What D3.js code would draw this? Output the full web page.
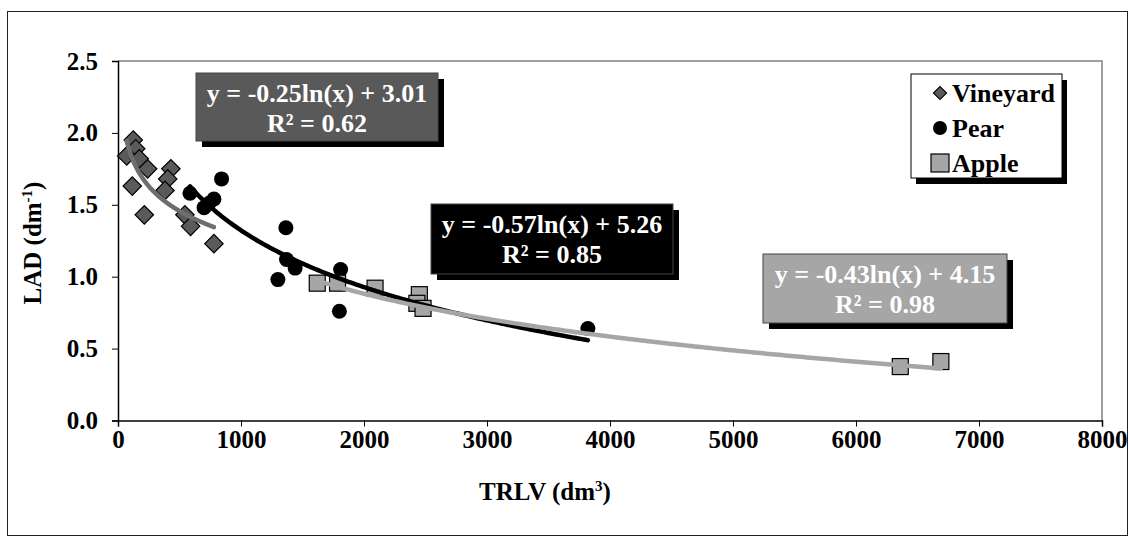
<!DOCTYPE html>
<html>
<head>
<meta charset="utf-8">
<script src="https://cdn.jsdelivr.net/npm/d3@7"></script>
<style>
  html, body { margin: 0; padding: 0; background: #fff; }
  svg { display: block; }
  text { font-family: "Liberation Serif", "Times New Roman", serif; font-weight: bold; }
</style>
</head>
<body>
<svg id="chart" width="1129" height="536"></svg>
<script>
// TRLV (dm³) vs LAD (dm⁻¹) measurements per orchard type
const vineyardX = [124, 144, 71, 173, 241, 430, 404, 116, 382, 214, 544, 590, 780];
const vineyardY = [1.95, 1.89, 1.84, 1.82, 1.75, 1.75, 1.68, 1.63, 1.60, 1.43, 1.43, 1.35, 1.23];

const pearX = [585, 700, 740, 780, 842, 1300, 1365, 1370, 1440, 1810, 1800, 3820];
const pearY = [1.58, 1.48, 1.51, 1.54, 1.68, 0.98, 1.34, 1.12, 1.06, 1.05, 0.76, 0.64];

const appleX = [1620, 1785, 2090, 2450, 2430, 2480, 6360, 6690];
const appleY = [0.955, 0.955, 0.92, 0.875, 0.815, 0.78, 0.375, 0.41];

// logarithmic trendlines y = a·ln(x) + b
const fitNames = ["Vineyard", "Pear", "Apple"];
const fitA = [-0.25, -0.57, -0.43];
const fitB = [3.01, 5.26, 4.15];
const fitR2 = ["0.62", "0.85", "0.98"];

const xTicks = [0, 1000, 2000, 3000, 4000, 5000, 6000, 7000, 8000];
const yTicks = [0.0, 0.5, 1.0, 1.5, 2.0, 2.5];

const svg = d3.select("#chart");
const W = 1129, H = 536;
const plot = { left: 118, right: 1102, top: 61, bottom: 420.5 };

const x = d3.scaleLinear().domain([0, 8000]).range([plot.left, plot.right]);
const y = d3.scaleLinear().domain([0, 2.5]).range([plot.bottom, plot.top]);

// outer frame
svg.append("rect")
  .attr("x", 7.5).attr("y", 11.5).attr("width", W - 9).attr("height", H - 12)
  .attr("fill", "#fff").attr("stroke", "#222").attr("stroke-width", 1);

// plot area border (top/right)
svg.append("path")
  .attr("d", `M${plot.left},${plot.top}H${plot.right}V${plot.bottom}`)
  .attr("fill", "none").attr("stroke", "#808080").attr("stroke-width", 1.5);

// axes
const xAxis = svg.append("g")
  .attr("transform", `translate(0,${plot.bottom})`)
  .call(d3.axisBottom(x).tickValues(xTicks).tickFormat(d => String(d)).tickSize(6).tickPadding(4));
const yAxis = svg.append("g")
  .attr("transform", `translate(${plot.left},0)`)
  .call(d3.axisLeft(y).tickValues(yTicks).tickFormat(d => d.toFixed(1)).tickSize(6).tickPadding(14));

[xAxis, yAxis].forEach(g => {
  g.select(".domain").attr("stroke", "#000").attr("stroke-width", 1.5);
  g.selectAll(".tick line").attr("stroke", "#000").attr("stroke-width", 1);
  g.selectAll(".tick text")
    .attr("fill", "#000")
    .style("font-family", "'Liberation Serif', 'Times New Roman', serif")
    .style("font-weight", "bold")
    .style("font-size", "25px");
});

// axis titles
const xTitle = svg.append("text")
  .attr("x", 545).attr("y", 500)
  .attr("text-anchor", "middle")
  .style("font-size", "25px");
xTitle.append("tspan").text("TRLV (dm");
xTitle.append("tspan").text("3").attr("dy", -9).style("font-size", "15px");
xTitle.append("tspan").text(")").attr("dy", 9);

const yTitle = svg.append("text")
  .attr("transform", "translate(41,243) rotate(-90)")
  .attr("text-anchor", "middle")
  .style("font-size", "25px");
yTitle.append("tspan").text("LAD (dm");
yTitle.append("tspan").text("-1").attr("dy", -9).style("font-size", "15px");
yTitle.append("tspan").text(")").attr("dy", 9);

// markers
const diamond = d3.symbol().type(d3.symbolSquare).size(170);
svg.append("g").selectAll("path")
  .data(d3.zip(vineyardX, vineyardY))
  .join("path")
  .attr("d", diamond)
  .attr("transform", d => `translate(${x(d[0])},${y(d[1])}) rotate(45)`)
  .attr("fill", "#5a5a5a").attr("stroke", "#000").attr("stroke-width", 1.2);

svg.append("g").selectAll("circle")
  .data(d3.zip(pearX, pearY))
  .join("circle")
  .attr("cx", d => x(d[0])).attr("cy", d => y(d[1])).attr("r", 7.5)
  .attr("fill", "#000");

svg.append("g").selectAll("rect")
  .data(d3.zip(appleX, appleY))
  .join("rect")
  .attr("x", d => x(d[0]) - 8).attr("y", d => y(d[1]) - 8)
  .attr("width", 16).attr("height", 16)
  .attr("fill", "#a6a6a6").attr("stroke", "#000").attr("stroke-width", 1.2);

// trendlines across each series' data range
const seriesX = [vineyardX, pearX, appleX];
const lineColors = ["#6e6e6e", "#000", "#a6a6a6"];
const line = d3.line().x(d => x(d[0])).y(d => y(d[1])).curve(d3.curveLinear);
fitNames.forEach((name, i) => {
  const [lo, hi] = d3.extent(seriesX[i]);
  const pts = d3.range(0, 201).map(k => {
    const v = lo + (hi - lo) * k / 200;
    return [v, fitA[i] * Math.log(v) + fitB[i]];
  });
  svg.append("path")
    .datum(pts)
    .attr("d", line)
    .attr("fill", "none")
    .attr("stroke", lineColors[i])
    .attr("stroke-width", 4.5)
    .attr("stroke-linecap", "round");
});

// equation labels
const boxes = [
  { x: 196, y: 73, w: 242, h: 68, fill: "#595959" },
  { x: 431, y: 204, w: 242, h: 70, fill: "#000" },
  { x: 763, y: 254, w: 244, h: 69, fill: "#a6a6a6" }
];
boxes.forEach((b, i) => {
  svg.append("rect")
    .attr("x", b.x + 6).attr("y", b.y + 6).attr("width", b.w).attr("height", b.h)
    .attr("fill", "#000");
  svg.append("rect")
    .attr("x", b.x).attr("y", b.y).attr("width", b.w).attr("height", b.h)
    .attr("fill", b.fill).attr("stroke", "#444").attr("stroke-width", 1);
  const cx = b.x + b.w / 2;
  const sign = fitB[i] >= 0 ? "+" : "-";
  svg.append("text")
    .attr("x", cx).attr("y", b.y + 29)
    .attr("text-anchor", "middle").attr("fill", "#fff")
    .style("font-size", "26px")
    .text(`y = ${fitA[i].toFixed(2)}ln(x) ${sign} ${Math.abs(fitB[i]).toFixed(2)}`);
  svg.append("text")
    .attr("x", cx).attr("y", b.y + 59)
    .attr("text-anchor", "middle").attr("fill", "#fff")
    .style("font-size", "26px")
    .text(`R² = ${fitR2[i]}`);
});

// legend
const lg = { x: 911, y: 74, w: 151, h: 104 };
svg.append("rect")
  .attr("x", lg.x + 5).attr("y", lg.y + 6).attr("width", lg.w).attr("height", lg.h)
  .attr("fill", "#000");
svg.append("rect")
  .attr("x", lg.x).attr("y", lg.y).attr("width", lg.w).attr("height", lg.h)
  .attr("fill", "#fff").attr("stroke", "#000").attr("stroke-width", 1);

const legendRows = [93, 128, 163];
// Vineyard diamond
svg.append("path")
  .attr("d", d3.symbol().type(d3.symbolSquare).size(85))
  .attr("transform", `translate(940,${legendRows[0]}) rotate(45)`)
  .attr("fill", "#5a5a5a").attr("stroke", "#000").attr("stroke-width", 1.2);
// Pear circle
svg.append("circle")
  .attr("cx", 940).attr("cy", legendRows[1]).attr("r", 7).attr("fill", "#000");
// Apple square
svg.append("rect")
  .attr("x", 931).attr("y", legendRows[2] - 9).attr("width", 18).attr("height", 18)
  .attr("fill", "#a6a6a6").attr("stroke", "#000").attr("stroke-width", 1.2);

fitNames.forEach((name, i) => {
  svg.append("text")
    .attr("x", 952).attr("y", legendRows[i] + 9)
    .attr("fill", "#000")
    .style("font-size", "26px")
    .text(name);
});
</script>
</body>
</html>
